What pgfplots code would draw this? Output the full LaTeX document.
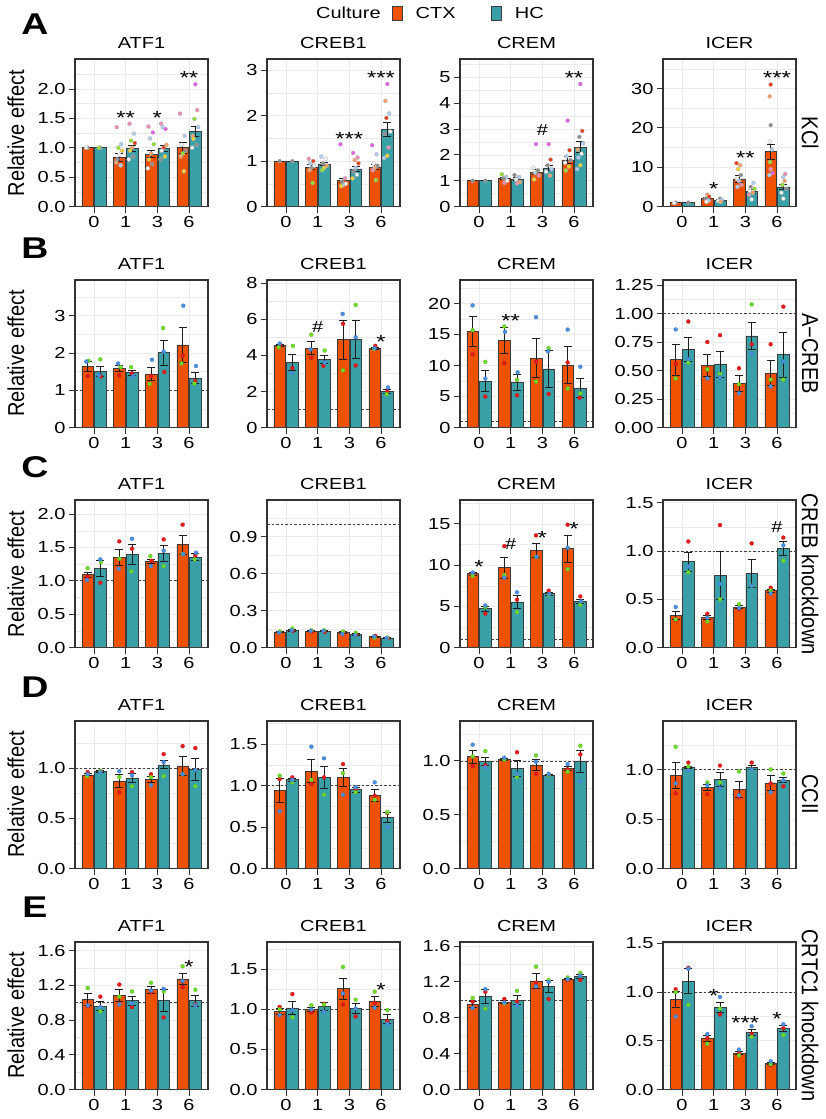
\documentclass[border=0pt]{standalone}
\usepackage{fontspec}
\setmainfont{Liberation Sans}[FakeStretch=1.25]
\newfontfamily\vfont{Liberation Sans}[FakeStretch=0.87]
\usepackage{pgfplots}
\pgfplotsset{compat=1.18}
\definecolor{ctxc}{RGB}{238,82,0}
\definecolor{hcc}{RGB}{58,160,168}
\definecolor{bardc}{RGB}{60,60,60}
\definecolor{gridc}{RGB}{235,235,235}
\definecolor{framec}{RGB}{51,51,51}
\definecolor{errc}{RGB}{30,30,30}
\definecolor{dr}{RGB}{228,26,28}
\definecolor{dg}{RGB}{110,220,40}
\definecolor{db}{RGB}{74,144,226}
\definecolor{cmg}{RGB}{228,90,228}
\definecolor{cpk}{RGB}{240,140,175}
\definecolor{cor}{RGB}{245,160,100}
\definecolor{crd}{RGB}{230,60,20}
\definecolor{cye}{RGB}{240,210,40}
\definecolor{cgn}{RGB}{140,225,40}
\definecolor{clb}{RGB}{175,205,240}
\definecolor{cgy}{RGB}{140,140,140}
\definecolor{cwh}{RGB}{242,242,242}
\newcommand\tickfont{\fontsize{16bp}{18bp}\selectfont}
\newcommand\starfont{\fontsize{19bp}{19bp}\selectfont}
\newcommand\vlab{\vfont\fontsize{23bp}{25bp}\selectfont}
\newcommand\letfont{\fontsize{30bp}{32bp}\selectfont\bfseries}
\tikzset{star/.style={font=\starfont, yshift=-3.9bp, inner sep=0pt},
         hash/.style={font=\tickfont, inner sep=0pt}}
\pgfplotsset{
 layers/mylay/.define layer set={axis background,axis grid,pre main,main,axis ticks,axis lines,axis tick labels,axis descriptions,axis foreground}{},
 panel/.style={set layers=mylay, scale only axis, width=133bp, height=147.5bp, anchor=north west,
   xmin=-0.6, xmax=3.6, ymin=0, xtick={0,1,2,3}, xticklabels={0,1,3,6},
   grid=both, major grid style={draw=gridc, line width=0.8bp}, minor grid style={draw=gridc, line width=0.4bp},
   axis line style={draw=framec, line width=1.1bp},
   major tick style={draw=framec, line width=0.9bp}, minor tick length=0pt, major tick length=6bp,
   tick align=outside, xtick pos=left, ytick pos=left,
   ticklabel style={font=\tickfont, text=black},
   /pgf/number format/assume math mode=true,
   title style={font=\tickfont, yshift=1bp}, clip=false},
 ctxbar/.style={ybar, bar width=0.37, bar shift=0pt, fill=ctxc, draw=bardc, line width=0.6bp,
   error bars/.cd, y dir=both, y explicit, error mark=-, error bar style={draw=errc, line width=0.8bp},
   error mark options={rotate=90, draw=errc, line width=0.8bp, mark size=4bp}},
 hcbar/.style={ybar, bar width=0.37, bar shift=0pt, fill=hcc, draw=bardc, line width=0.6bp,
   error bars/.cd, y dir=both, y explicit, error mark=-, error bar style={draw=errc, line width=0.8bp},
   error mark options={rotate=90, draw=errc, line width=0.8bp, mark size=4bp}},
 dots/.style={forget plot, only marks, scatter, scatter src=explicit symbolic, mark size=2bp,
   scatter/classes={
     r={mark=*, fill=dr, draw=dr!80!black, line width=0.2bp},
     g={mark=*, fill=dg, draw=dg!80!black, line width=0.2bp},
     b={mark=*, fill=db, draw=db!80!black, line width=0.2bp},
     mg={mark=*, fill=cmg, draw=black!30, line width=0.3bp},
     pk={mark=*, fill=cpk, draw=black!30, line width=0.3bp},
     or={mark=*, fill=cor, draw=black!30, line width=0.3bp},
     rd={mark=*, fill=crd, draw=black!30, line width=0.3bp},
     ye={mark=*, fill=cye, draw=black!30, line width=0.3bp},
     gn={mark=*, fill=cgn, draw=black!30, line width=0.3bp},
     lb={mark=*, fill=clb, draw=black!30, line width=0.3bp},
     gy={mark=*, fill=cgy, draw=black!30, line width=0.3bp},
     wh={mark=*, fill=cwh, draw=black!30, line width=0.3bp}}},
 dashline/.style={forget plot, draw=black!75, line width=0.6bp, dash pattern=on 2.5bp off 2bp}
}
\begin{document}
\begin{tikzpicture}
\path (0,0) rectangle (826bp,-1119bp);
% ---------- labels ----------
\node[font=\letfont] at (35bp,-24bp) {A};
\node[font=\letfont] at (35bp,-248bp) {B};
\node[font=\letfont] at (35bp,-467bp) {C};
\node[font=\letfont] at (35bp,-687bp) {D};
\node[font=\letfont] at (35bp,-907bp) {E};
\node[rotate=90, font=\vlab] at (16bp,-133bp) {Relative effect};
\node[rotate=90, font=\vlab] at (16bp,-353.5bp) {Relative effect};
\node[rotate=90, font=\vlab] at (16bp,-574bp) {Relative effect};
\node[rotate=90, font=\vlab] at (16bp,-794.5bp) {Relative effect};
\node[rotate=90, font=\vlab] at (16bp,-1015.5bp) {Relative effect};
\node[rotate=-90, font=\vlab] at (810bp,-133bp) {KCl};
\node[rotate=-90, font=\vlab] at (810bp,-353.5bp) {A−CREB};
\node[rotate=-90, font=\vlab] at (810bp,-574bp) {CREB knockdown};
\node[rotate=-90, font=\vlab] at (810bp,-794.5bp) {CCII};
\node[rotate=-90, font=\vlab] at (810bp,-1015.5bp) {CRTC1 knockdown};

% ================= ROW A =================
\begin{axis}[panel, at={(75bp,-59bp)}, ymax=2.51, title={ATF1},
  ytick={0,0.5,1,1.5,2}, yticklabels={0.0,0.5,1.0,1.5,2.0}, minor ytick={0.25,0.75,1.25,1.75,2.25},
  legend style={at={(2.62,1.3085)}, anchor=center, draw=none, fill=none, font=\tickfont,
    legend columns=3, nodes={inner sep=0bp},
    /tikz/every even column/.append style={column sep=11bp},
    /tikz/every odd column/.append style={column sep=13bp}}]
\addlegendimage{empty legend}\addlegendentry{Culture}
\addplot[legend image code/.code={\draw[fill=ctxc, draw=bardc, line width=0.6bp] (0bp,-7bp) rectangle (10.5bp,7.5bp);}, ctxbar]
  coordinates {(-0.2,1.0)+-(0,0) (0.8,0.83)+-(0,0.07) (1.8,0.89)+-(0,0.06) (2.8,1.0)+-(0,0.09)};
\addlegendentry{CTX\rule{24bp}{0bp}}
\addplot[legend image code/.code={\draw[fill=hcc, draw=bardc, line width=0.6bp] (0bp,-7bp) rectangle (10.5bp,7.5bp);}, hcbar]
  coordinates {(0.2,1.0)+-(0,0) (1.2,0.99)+-(0,0.05) (2.2,0.99)+-(0,0.05) (3.2,1.28)+-(0,0.08)};
\addlegendentry{HC}
\addplot[dots] coordinates {
 (-0.2,1.0)[gy] (-0.25,1.0)[wh] (0.2,1.0)[gy] (0.15,1.0)[gn]
 (0.72,1.35)[pk] (0.86,1.06)[lb] (0.77,1.0)[gn] (0.89,0.95)[ye] (0.8,0.88)[wh] (0.74,0.8)[gy] (0.84,0.7)[lb] (0.7,0.75)[or]
 (1.12,1.41)[pk] (1.26,1.24)[lb] (1.17,1.12)[gn] (1.29,1.08)[rd] (1.2,1.0)[or] (1.14,0.95)[ye] (1.24,0.85)[gy] (1.1,0.8)[wh]
 (1.72,1.36)[pk] (1.86,1.26)[mg] (1.77,1.16)[lb] (1.89,1.06)[gn] (1.8,0.9)[or] (1.74,0.8)[ye] (1.84,0.72)[gy] (1.7,0.65)[wh]
 (2.12,1.41)[pk] (2.26,1.32)[mg] (2.17,1.35)[lb] (2.29,1.05)[or] (2.2,1.0)[rd] (2.14,0.95)[wh] (2.24,0.85)[ye] (2.1,0.8)[gy]
 (2.72,1.58)[pk] (2.86,1.2)[lb] (2.77,1.05)[wh] (2.89,0.95)[gy] (2.8,0.9)[gn] (2.74,0.85)[or] (2.84,0.6)[ye]
 (3.2,2.08)[mg] (3.26,1.64)[pk] (3.17,1.49)[gn] (3.29,1.35)[lb] (3.12,1.2)[or] (3.14,1.15)[ye] (3.24,1.05)[gy] (3.1,1.0)[wh]};
\node[star] at (axis cs:1,1.574) {**};
\node[star] at (axis cs:2,1.574) {*};
\node[star] at (axis cs:3,2.254) {**};
\end{axis}

\begin{axis}[panel, at={(267bp,-59bp)}, ymax=3.25, title={CREB1},
  ytick={0,1,2,3}, yticklabels={0,1,2,3}, minor ytick={0.5,1.5,2.5}]
\addplot[forget plot, ctxbar] coordinates {(-0.2,1)+-(0,0) (0.8,0.87)+-(0,0.05) (1.8,0.57)+-(0,0.04) (2.8,0.87)+-(0,0.05)};
\addplot[forget plot, hcbar] coordinates {(0.2,1)+-(0,0) (1.2,0.94)+-(0,0.04) (2.2,0.83)+-(0,0.06) (3.2,1.70)+-(0,0.155)};
\addplot[dots] coordinates {
 (-0.2,1.0)[gy] (0.2,1.0)[gy]
 (0.72,1.05)[pk] (0.86,1.0)[rd] (0.77,0.95)[lb] (0.89,0.9)[wh] (0.8,0.85)[gy] (0.74,0.8)[or] (0.84,0.52)[gn]
 (1.12,1.1)[lb] (1.26,1.05)[wh] (1.17,0.95)[gy] (1.29,0.9)[or] (1.2,0.85)[ye] (1.14,0.8)[gn]
 (1.72,1.37)[mg] (1.86,0.62)[pk] (1.77,0.55)[gy] (1.89,0.5)[wh] (1.8,0.47)[lb] (1.74,0.45)[ye]
 (2.12,1.18)[mg] (2.26,1.08)[pk] (2.17,1.02)[or] (2.29,0.95)[rd] (2.2,0.85)[lb] (2.14,0.78)[gy] (2.24,0.7)[wh] (2.1,0.62)[ye]
 (2.72,1.35)[mg] (2.86,1.15)[lb] (2.77,0.95)[wh] (2.89,0.9)[gy] (2.8,0.85)[or] (2.74,0.8)[pk] (2.84,0.58)[gn]
 (3.2,2.7)[mg] (3.14,2.33)[or] (3.26,2.05)[lb] (3.17,1.95)[rd] (3.29,1.65)[wh] (3.12,1.6)[gy] (3.24,1.3)[pk] (3.2,1.12)[ye] (3.1,1.07)[lb]};
\node[star] at (axis cs:2,1.57) {***};
\node[star] at (axis cs:3,2.92) {***};
\end{axis}

\begin{axis}[panel, at={(460bp,-59bp)}, ymax=5.72, title={CREM},
  ytick={0,1,2,3,4,5}, yticklabels={0,1,2,3,4,5}, minor ytick={0.5,1.5,2.5,3.5,4.5,5.5}]
\addplot[forget plot, ctxbar] coordinates {(-0.2,1)+-(0,0) (0.8,1.09)+-(0,0.04) (1.8,1.33)+-(0,0.1) (2.8,1.81)+-(0,0.15)};
\addplot[forget plot, hcbar] coordinates {(0.2,1)+-(0,0) (1.2,1.07)+-(0,0.04) (2.2,1.50)+-(0,0.1) (3.2,2.30)+-(0,0.22)};
\addplot[dots] coordinates {
 (-0.2,1.0)[gy] (0.2,1.0)[gy]
 (0.72,1.25)[gn] (0.86,1.15)[lb] (0.77,1.1)[gy] (0.89,1.0)[wh] (0.8,0.92)[pk]
 (1.12,1.22)[gy] (1.26,1.15)[lb] (1.17,1.05)[wh] (1.29,0.95)[or] (1.2,0.9)[pk]
 (1.8,2.42)[mg] (1.72,1.5)[wh] (1.86,1.4)[gy] (1.77,1.3)[lb] (1.89,1.2)[pk] (1.74,1.05)[ye]
 (2.2,2.42)[mg] (2.26,1.82)[rd] (2.17,1.6)[gy] (2.29,1.45)[lb] (2.12,1.35)[wh] (2.24,1.2)[or]
 (2.8,3.33)[mg] (2.86,2.18)[rd] (2.77,1.95)[lb] (2.89,1.8)[gy] (2.72,1.7)[wh] (2.84,1.55)[ye] (2.74,1.4)[gn]
 (3.2,4.75)[mg] (3.26,2.93)[rd] (3.17,2.7)[gy] (3.29,2.45)[lb] (3.12,2.2)[or] (3.24,2.05)[wh] (3.14,1.9)[lb] (3.2,1.6)[ye] (3.1,1.45)[lb]};
\node[hash] at (axis cs:2,2.96) {\#};
\node[star] at (axis cs:3,5.13) {**};
\end{axis}

\begin{axis}[panel, at={(663bp,-59bp)}, ymax=37.5, title={ICER},
  ytick={0,10,20,30}, yticklabels={0,10,20,30}, minor ytick={5,15,25,35}]
\addplot[forget plot, ctxbar] coordinates {(-0.2,1)+-(0,0) (0.8,2.0)+-(0,0.3) (1.8,7.0)+-(0,0.8) (2.8,14.0)+-(0,1.9)};
\addplot[forget plot, hcbar] coordinates {(0.2,1)+-(0,0) (1.2,1.5)+-(0,0.2) (2.2,3.8)+-(0,0.5) (3.2,5.0)+-(0,0.6)};
\addplot[dots] coordinates {
 (-0.2,1)[gy] (-0.25,0.9)[wh] (0.2,1)[gy]
 (0.8,3.0)[or] (0.86,2.5)[rd] (0.74,2.0)[gy] (0.84,1.5)[lb] (0.77,1.2)[wh]
 (1.2,2.0)[gy] (1.26,1.7)[lb] (1.14,1.4)[wh] (1.22,1.2)[or]
 (1.72,11.0)[rd] (1.84,10.5)[or] (1.77,9.5)[ye] (1.86,8.0)[gy] (1.74,7.0)[wh] (1.8,6.5)[lb] (1.88,5.5)[pk] (1.75,5.0)[lb]
 (2.26,6.0)[lb] (2.17,5.0)[gy] (2.29,4.5)[gn] (2.14,4.0)[wh] (2.24,3.5)[or] (2.12,3.0)[pk] (2.2,1.8)[wh]
 (2.8,31.0)[rd] (2.77,28.0)[or] (2.8,20.7)[gy] (2.77,16.5)[wh] (2.84,14.5)[lb] (2.78,11.3)[gn] (2.8,9.5)[pk] (2.86,8.5)[mg] (2.76,8.0)[lb]
 (3.26,8.3)[pk] (3.2,7.5)[lb] (3.24,6.5)[or] (3.17,5.5)[gn] (3.29,4.5)[gy] (3.14,3.5)[wh] (3.2,2.0)[wh]};
\node[star] at (axis cs:1,5.56) {*};
\node[star] at (axis cs:2,13.4) {**};
\node[star] at (axis cs:3,33.7) {***};
\end{axis}

% ================= ROW B =================
\begin{axis}[panel, at={(75bp,-280bp)}, ymax=3.96, title={ATF1},
  ytick={0,1,2,3}, yticklabels={0,1,2,3}, minor ytick={0.5,1.5,2.5,3.5}]
\addplot[dashline] coordinates {(-0.6,1) (3.6,1)};
\addplot[forget plot, ctxbar] coordinates {(-0.2,1.64)+-(0,0.13) (0.8,1.58)+-(0,0.08) (1.8,1.44)+-(0,0.17) (2.8,2.22)+-(0,0.47)};
\addplot[forget plot, hcbar] coordinates {(0.2,1.51)+-(0,0.13) (1.2,1.47)+-(0,0.07) (2.2,2.01)+-(0,0.33) (3.2,1.33)+-(0,0.14)};
\addplot[dots] coordinates {
 (-0.2,1.38)[r] (-0.17,1.79)[g] (-0.24,1.77)[b]
 (0.8,1.40)[r] (0.84,1.62)[g] (0.76,1.72)[b]
 (1.8,1.38)[r] (1.76,1.17)[g] (1.83,1.82)[b]
 (2.8,1.94)[r] (2.76,1.72)[g] (2.82,3.27)[b]
 (0.22,1.37)[r] (0.2,1.83)[g] (0.16,1.40)[b]
 (1.2,1.45)[r] (1.17,1.62)[g] (1.24,1.38)[b]
 (2.22,1.49)[r] (2.18,2.67)[g] (2.2,2.04)[b]
 (3.2,1.25)[r] (3.17,1.18)[g] (3.22,1.65)[b]};
\end{axis}

\begin{axis}[panel, at={(267bp,-280bp)}, ymax=8.18, title={CREB1},
  ytick={0,2,4,6,8}, yticklabels={0,2,4,6,8}, minor ytick={1,3,5,7}]
\addplot[dashline] coordinates {(-0.6,1) (3.6,1)};
\addplot[forget plot, ctxbar] coordinates {(-0.2,4.55)+-(0,0.06) (0.8,4.40)+-(0,0.37) (1.8,4.87)+-(0,1.08) (2.8,4.40)+-(0,0.05)};
\addplot[forget plot, hcbar] coordinates {(0.2,3.59)+-(0,0.45) (1.2,3.77)+-(0,0.24) (2.2,4.89)+-(0,1.05) (3.2,1.99)+-(0,0.10)};
\addplot[dots] coordinates {
 (-0.18,4.6)[r] (-0.23,4.45)[g] (-0.2,4.66)[b]
 (0.8,3.87)[r] (0.8,5.15)[g] (0.78,4.33)[b]
 (1.8,5.75)[r] (1.8,3.17)[g] (1.79,6.3)[b]
 (2.82,4.53)[r] (2.78,4.35)[g] (2.8,4.4)[b]
 (0.2,3.3)[r] (0.22,4.53)[g] (0.18,3.03)[b]
 (1.18,3.42)[r] (1.22,4.27)[g] (1.22,3.6)[b]
 (2.2,3.44)[r] (2.2,6.8)[g] (2.2,5.0)[b]
 (3.2,2.0)[r] (3.18,1.85)[g] (3.22,2.22)[b]};
\node[hash] at (axis cs:1,5.58) {\#};
\node[star] at (axis cs:3,4.98) {*};
\end{axis}

\begin{axis}[panel, at={(460bp,-280bp)}, ymax=23.8, title={CREM},
  ytick={0,5,10,15,20}, yticklabels={0,5,10,15,20}, minor ytick={2.5,7.5,12.5,17.5,22.5}]
\addplot[dashline] coordinates {(-0.6,1) (3.6,1)};
\addplot[forget plot, ctxbar] coordinates {(-0.2,15.5)+-(0,2.43) (0.8,14.05)+-(0,2.1) (1.8,11.2)+-(0,3.15) (2.8,10.1)+-(0,3.0)};
\addplot[forget plot, hcbar] coordinates {(0.2,7.46)+-(0,1.7) (1.2,7.24)+-(0,1.3) (2.2,9.46)+-(0,2.97) (3.2,6.38)+-(0,1.49)};
\addplot[dots] coordinates {
 (-0.2,11.8)[r] (-0.2,15.7)[g] (-0.2,19.7)[b]
 (0.8,10.4)[r] (0.8,16.3)[g] (0.82,15.45)[b]
 (1.8,10.6)[r] (1.8,7.4)[g] (1.8,17.8)[b]
 (2.8,10.5)[r] (2.8,6.3)[g] (2.8,15.8)[b]
 (0.2,5.0)[r] (0.2,10.6)[g] (0.2,7.9)[b]
 (1.2,5.2)[r] (1.2,7.7)[g] (1.22,8.9)[b]
 (2.2,5.4)[r] (2.2,12.8)[g] (2.18,12.3)[b]
 (3.18,4.8)[r] (3.2,5.5)[g] (3.2,9.8)[b]};
\node[star] at (axis cs:1,17.8) {**};
\end{axis}

\begin{axis}[panel, at={(663bp,-280bp)}, ymax=1.294, title={ICER},
  ytick={0,0.25,0.5,0.75,1,1.25}, yticklabels={0.00,0.25,0.50,0.75,1.00,1.25}, minor ytick={0.125,0.375,0.625,0.875,1.125}]
\addplot[dashline] coordinates {(-0.6,1) (3.6,1)};
\addplot[forget plot, ctxbar] coordinates {(-0.2,0.594)+-(0,0.135) (0.8,0.544)+-(0,0.096) (1.8,0.388)+-(0,0.069) (2.8,0.479)+-(0,0.107)};
\addplot[forget plot, hcbar] coordinates {(0.2,0.685)+-(0,0.109) (1.2,0.553)+-(0,0.112) (2.2,0.803)+-(0,0.12) (3.2,0.638)+-(0,0.195)};
\addplot[dots] coordinates {
 (-0.2,0.56)[r] (-0.2,0.43)[g] (-0.2,0.86)[b]
 (0.8,0.75)[r] (0.8,0.51)[g] (0.8,0.43)[b]
 (1.8,0.52)[r] (1.8,0.38)[g] (1.8,0.30)[b]
 (2.8,0.73)[r] (2.8,0.42)[g] (2.8,0.36)[b]
 (0.2,0.93)[r] (0.2,0.57)[g] (0.2,0.60)[b]
 (1.2,0.81)[r] (1.2,0.47)[g] (1.2,0.44)[b]
 (2.2,0.73)[r] (2.2,1.08)[g] (2.2,0.65)[b]
 (3.2,1.06)[r] (3.2,0.42)[g] (3.2,0.58)[b]};
\end{axis}

% ================= ROW C =================
\begin{axis}[panel, at={(75bp,-500bp)}, ymax=2.21, title={ATF1},
  ytick={0,0.5,1,1.5,2}, yticklabels={0.0,0.5,1.0,1.5,2.0}, minor ytick={0.25,0.75,1.25,1.75}]
\addplot[dashline] coordinates {(-0.6,1) (3.6,1)};
\addplot[forget plot, ctxbar] coordinates {(-0.2,1.09)+-(0,0.04) (0.8,1.355)+-(0,0.12) (1.8,1.285)+-(0,0.03) (2.8,1.54)+-(0,0.14)};
\addplot[forget plot, hcbar] coordinates {(0.2,1.18)+-(0,0.12) (1.2,1.40)+-(0,0.15) (2.2,1.415)+-(0,0.12) (3.2,1.355)+-(0,0.05)};
\addplot[dots] coordinates {
 (-0.2,1.06)[r] (-0.2,1.19)[g] (-0.22,1.01)[b]
 (0.8,1.59)[r] (0.8,1.33)[g] (0.78,1.18)[b]
 (1.82,1.30)[r] (1.78,1.37)[g] (1.8,1.22)[b]
 (2.8,1.84)[r] (2.8,1.40)[g] (2.82,1.40)[b]
 (0.2,0.97)[r] (0.22,1.28)[g] (0.2,1.32)[b]
 (1.2,1.48)[r] (1.18,1.14)[g] (1.2,1.63)[b]
 (2.2,1.62)[r] (2.2,1.22)[g] (2.2,1.45)[b]
 (3.2,1.38)[r] (3.18,1.32)[g] (3.22,1.42)[b]};
\end{axis}

\begin{axis}[panel, at={(267bp,-500bp)}, ymax=1.20, title={CREB1},
  ytick={0,0.3,0.6,0.9}, yticklabels={0.0,0.3,0.6,0.9}, minor ytick={0.15,0.45,0.75,1.05}]
\addplot[dashline] coordinates {(-0.6,1) (3.6,1)};
\addplot[forget plot, ctxbar] coordinates {(-0.2,0.127)+-(0,0.004) (0.8,0.132)+-(0,0.004) (1.8,0.122)+-(0,0.005) (2.8,0.089)+-(0,0.004)};
\addplot[forget plot, hcbar] coordinates {(0.2,0.14)+-(0,0.006) (1.2,0.132)+-(0,0.005) (2.2,0.108)+-(0,0.006) (3.2,0.078)+-(0,0.002)};
\addplot[dots] coordinates {
 (-0.2,0.125)[r] (-0.2,0.13)[g] (-0.22,0.12)[b]
 (0.82,0.13)[r] (0.8,0.14)[g] (0.78,0.135)[b]
 (1.82,0.125)[r] (1.8,0.13)[g] (1.78,0.11)[b]
 (2.82,0.095)[r] (2.8,0.08)[g] (2.78,0.09)[b]
 (0.22,0.135)[r] (0.2,0.155)[g] (0.18,0.14)[b]
 (1.22,0.125)[r] (1.2,0.14)[g] (1.18,0.135)[b]
 (2.22,0.105)[r] (2.2,0.12)[g] (2.18,0.10)[b]
 (3.22,0.076)[r] (3.2,0.08)[g] (3.18,0.078)[b]};
\end{axis}

\begin{axis}[panel, at={(460bp,-500bp)}, ymax=17.9, title={CREM},
  ytick={0,5,10,15}, yticklabels={0,5,10,15}, minor ytick={2.5,7.5,12.5,17.5}]
\addplot[dashline] coordinates {(-0.6,1) (3.6,1)};
\addplot[forget plot, ctxbar] coordinates {(-0.2,8.95)+-(0,0.15) (0.8,9.68)+-(0,1.25) (1.8,11.81)+-(0,0.85) (2.8,11.98)+-(0,1.6)};
\addplot[forget plot, hcbar] coordinates {(0.2,4.72)+-(0,0.3) (1.2,5.52)+-(0,0.75) (2.2,6.53)+-(0,0.15) (3.2,5.6)+-(0,0.25)};
\addplot[dots] coordinates {
 (-0.2,9.0)[r] (-0.2,8.7)[g] (-0.2,9.1)[b]
 (0.8,12.3)[r] (0.8,8.8)[g] (0.8,8.5)[b]
 (1.8,13.6)[r] (1.8,11.0)[g] (1.82,11.0)[b]
 (2.8,14.9)[r] (2.8,9.5)[g] (2.8,12.1)[b]
 (0.2,4.1)[r] (0.2,4.9)[g] (0.2,5.1)[b]
 (1.2,5.8)[r] (1.2,4.3)[g] (1.2,6.7)[b]
 (2.2,6.9)[r] (2.2,6.4)[g] (2.22,6.5)[b]
 (3.2,6.2)[r] (3.2,5.2)[g] (3.22,5.6)[b]};
\node[star] at (axis cs:0,10.3) {*};
\node[hash] at (axis cs:1,12.5) {\#};
\node[star] at (axis cs:2,13.8) {*};
\node[star] at (axis cs:3,14.8) {*};
\end{axis}

\begin{axis}[panel, at={(663bp,-500bp)}, ymax=1.53, title={ICER},
  ytick={0,0.5,1,1.5}, yticklabels={0.0,0.5,1.0,1.5}, minor ytick={0.25,0.75,1.25}]
\addplot[dashline] coordinates {(-0.6,1) (3.6,1)};
\addplot[forget plot, ctxbar] coordinates {(-0.2,0.334)+-(0,0.04) (0.8,0.31)+-(0,0.02) (1.8,0.417)+-(0,0.015) (2.8,0.59)+-(0,0.015)};
\addplot[forget plot, hcbar] coordinates {(0.2,0.89)+-(0,0.1) (1.2,0.748)+-(0,0.245) (2.2,0.766)+-(0,0.147) (3.2,1.03)+-(0,0.07)};
\addplot[dots] coordinates {
 (-0.2,0.28)[r] (-0.2,0.29)[g] (-0.2,0.42)[b]
 (0.8,0.35)[r] (0.8,0.27)[g] (0.8,0.31)[b]
 (1.8,0.40)[r] (1.8,0.45)[g] (1.8,0.41)[b]
 (2.8,0.62)[r] (2.8,0.59)[g] (2.8,0.56)[b]
 (0.2,1.10)[r] (0.2,0.78)[g] (0.2,0.84)[b]
 (1.2,1.27)[r] (1.2,0.50)[g] (1.2,0.66)[b]
 (2.2,1.08)[r] (2.2,0.64)[g] (2.2,0.64)[b]
 (3.2,1.14)[r] (3.2,0.90)[g] (3.2,1.06)[b]};
\node[hash] at (axis cs:3,1.25) {\#};
\end{axis}

% ================= ROW D =================
\begin{axis}[panel, at={(75bp,-721bp)}, ymax=1.47, title={ATF1},
  ytick={0,0.5,1}, yticklabels={0.0,0.5,1.0}, minor ytick={0.25,0.75,1.25}]
\addplot[dashline] coordinates {(-0.6,1) (3.6,1)};
\addplot[forget plot, ctxbar] coordinates {(-0.2,0.933)+-(0,0.01) (0.8,0.873)+-(0,0.067) (1.8,0.89)+-(0,0.03) (2.8,1.023)+-(0,0.095)};
\addplot[forget plot, hcbar] coordinates {(0.2,0.97)+-(0,0.01) (1.2,0.903)+-(0,0.04) (2.2,1.033)+-(0,0.04) (3.2,0.987)+-(0,0.108)};
\addplot[dots] coordinates {
 (-0.2,0.96)[r] (-0.22,0.92)[g] (-0.2,0.94)[b]
 (0.8,0.76)[r] (0.8,0.91)[g] (0.8,0.97)[b]
 (1.8,0.94)[r] (1.8,0.91)[g] (1.8,0.83)[b]
 (2.8,1.22)[r] (2.8,0.94)[g] (2.8,0.94)[b]
 (0.2,0.97)[r] (0.2,0.97)[g] (0.2,0.96)[b]
 (1.2,0.96)[r] (1.2,0.82)[g] (1.2,0.93)[b]
 (2.2,1.14)[r] (2.2,0.92)[g] (2.2,1.06)[b]
 (3.2,1.20)[r] (3.2,0.82)[g] (3.2,0.98)[b]};
\end{axis}

\begin{axis}[panel, at={(267bp,-721bp)}, ymax=1.78, title={CREB1},
  ytick={0,0.5,1,1.5}, yticklabels={0.0,0.5,1.0,1.5}, minor ytick={0.25,0.75,1.25,1.75}]
\addplot[dashline] coordinates {(-0.6,1) (3.6,1)};
\addplot[forget plot, ctxbar] coordinates {(-0.2,0.947)+-(0,0.146) (0.8,1.174)+-(0,0.138) (1.8,1.10)+-(0,0.11) (2.8,0.883)+-(0,0.075)};
\addplot[forget plot, hcbar] coordinates {(0.2,1.073)+-(0,0.02) (1.2,1.10)+-(0,0.13) (2.2,0.95)+-(0,0.03) (3.2,0.615)+-(0,0.06)};
\addplot[dots] coordinates {
 (-0.2,1.08)[r] (-0.2,1.12)[g] (-0.2,0.69)[b]
 (0.8,1.02)[r] (0.8,1.07)[g] (0.8,1.47)[b]
 (1.8,1.26)[r] (1.8,1.15)[g] (1.8,0.89)[b]
 (2.8,0.88)[r] (2.8,0.83)[g] (2.8,1.04)[b]
 (0.2,1.10)[r] (0.2,1.04)[g] (0.2,1.07)[b]
 (1.2,1.10)[r] (1.2,0.89)[g] (1.2,1.33)[b]
 (2.2,0.96)[r] (2.2,0.92)[g] (2.2,0.98)[b]
 (3.2,0.67)[r] (3.2,0.68)[g] (3.2,0.50)[b]};
\end{axis}

\begin{axis}[panel, at={(460bp,-721bp)}, ymax=1.37, title={CREM},
  ytick={0,0.5,1}, yticklabels={0.0,0.5,1.0}, minor ytick={0.25,0.75,1.25}]
\addplot[dashline] coordinates {(-0.6,1) (3.6,1)};
\addplot[forget plot, ctxbar] coordinates {(-0.2,1.04)+-(0,0.06) (0.8,1.01)+-(0,0.01) (1.8,0.963)+-(0,0.05) (2.8,0.93)+-(0,0.02)};
\addplot[forget plot, hcbar] coordinates {(0.2,0.994)+-(0,0.04) (1.2,0.93)+-(0,0.07) (2.2,0.87)+-(0,0.005) (3.2,0.994)+-(0,0.105)};
\addplot[dots] coordinates {
 (-0.2,0.95)[r] (-0.2,1.04)[g] (-0.2,1.15)[b]
 (0.8,1.01)[r] (0.8,1.01)[g] (0.8,1.03)[b]
 (1.8,0.88)[r] (1.8,1.05)[g] (1.8,0.99)[b]
 (2.8,0.92)[r] (2.8,0.90)[g] (2.8,0.97)[b]
 (0.2,0.96)[r] (0.2,1.09)[g] (0.2,0.94)[b]
 (1.2,1.08)[r] (1.2,0.85)[g] (1.2,0.88)[b]
 (2.2,0.87)[r] (2.2,0.87)[g] (2.2,0.88)[b]
 (3.2,1.06)[r] (3.2,1.14)[g] (3.2,0.81)[b]};
\end{axis}

\begin{axis}[panel, at={(663bp,-721bp)}, ymax=1.49, title={ICER},
  ytick={0,0.5,1}, yticklabels={0.0,0.5,1.0}, minor ytick={0.25,0.75,1.25}]
\addplot[dashline] coordinates {(-0.6,1) (3.6,1)};
\addplot[forget plot, ctxbar] coordinates {(-0.2,0.94)+-(0,0.13) (0.8,0.82)+-(0,0.03) (1.8,0.80)+-(0,0.085) (2.8,0.865)+-(0,0.075)};
\addplot[forget plot, hcbar] coordinates {(0.2,1.024)+-(0,0.01) (1.2,0.90)+-(0,0.07) (2.2,1.02)+-(0,0.02) (3.2,0.895)+-(0,0.03)};
\addplot[dots] coordinates {
 (-0.2,0.76)[r] (-0.2,1.23)[g] (-0.2,0.86)[b]
 (0.8,0.75)[r] (0.8,0.87)[g] (0.8,0.84)[b]
 (1.8,0.72)[r] (1.8,0.98)[g] (1.8,0.74)[b]
 (2.8,0.86)[r] (2.8,1.0)[g] (2.8,0.77)[b]
 (0.2,1.07)[r] (0.2,1.03)[g] (0.2,0.99)[b]
 (1.2,1.04)[r] (1.2,0.87)[g] (1.2,0.81)[b]
 (2.2,1.07)[r] (2.2,1.0)[g] (2.2,1.0)[b]
 (3.2,0.83)[r] (3.2,0.96)[g] (3.2,0.89)[b]};
\end{axis}

% ================= ROW E =================
\begin{axis}[panel, at={(75bp,-942bp)}, ymax=1.70, title={ATF1},
  ytick={0,0.4,0.8,1.2,1.6}, yticklabels={0.0,0.4,0.8,1.2,1.6}, minor ytick={0.2,0.6,1.0,1.4}]
\addplot[dashline] coordinates {(-0.6,1) (3.6,1)};
\addplot[forget plot, ctxbar] coordinates {(-0.2,1.035)+-(0,0.068) (0.8,1.085)+-(0,0.07) (1.8,1.151)+-(0,0.04) (2.8,1.275)+-(0,0.068)};
\addplot[forget plot, hcbar] coordinates {(0.2,0.961)+-(0,0.05) (1.2,1.023)+-(0,0.05) (2.2,1.027)+-(0,0.124) (3.2,1.023)+-(0,0.06)};
\addplot[dots] coordinates {
 (-0.2,0.96)[r] (-0.2,1.17)[g] (-0.2,0.97)[b]
 (0.8,1.21)[r] (0.8,1.07)[g] (0.8,0.98)[b]
 (1.8,1.12)[r] (1.8,1.23)[g] (1.8,1.14)[b]
 (2.8,1.18)[r] (2.8,1.42)[g] (2.8,1.25)[b]
 (0.2,1.07)[r] (0.2,0.90)[g] (0.2,0.95)[b]
 (1.2,0.95)[r] (1.2,1.13)[g] (1.2,0.99)[b]
 (2.2,0.83)[r] (2.2,1.13)[g] (2.2,1.16)[b]
 (3.2,0.98)[r] (3.2,1.15)[g] (3.2,0.97)[b]};
\node[star] at (axis cs:3,1.46) {*};
\end{axis}

\begin{axis}[panel, at={(267bp,-942bp)}, ymax=1.84, title={CREB1},
  ytick={0,0.5,1,1.5}, yticklabels={0.0,0.5,1.0,1.5}, minor ytick={0.25,0.75,1.25,1.75}]
\addplot[dashline] coordinates {(-0.6,1) (3.6,1)};
\addplot[forget plot, ctxbar] coordinates {(-0.2,0.975)+-(0,0.04) (0.8,1.0)+-(0,0.02) (1.8,1.26)+-(0,0.132) (2.8,1.10)+-(0,0.065)};
\addplot[forget plot, hcbar] coordinates {(0.2,1.017)+-(0,0.084) (1.2,1.038)+-(0,0.05) (2.2,1.008)+-(0,0.06) (3.2,0.878)+-(0,0.055)};
\addplot[dots] coordinates {
 (-0.2,1.03)[r] (-0.2,1.0)[g] (-0.2,0.93)[b]
 (0.8,0.96)[r] (0.8,1.05)[g] (0.8,1.0)[b]
 (1.8,1.06)[r] (1.8,1.53)[g] (1.8,1.2)[b]
 (2.8,1.08)[r] (2.8,1.22)[g] (2.8,1.02)[b]
 (0.2,1.19)[r] (0.2,0.90)[g] (0.2,0.99)[b]
 (1.2,1.07)[r] (1.2,1.06)[g] (1.2,0.97)[b]
 (2.2,0.91)[r] (2.2,1.12)[g] (2.2,1.01)[b]
 (3.2,0.85)[r] (3.2,0.99)[g] (3.2,0.82)[b]};
\node[star] at (axis cs:3,1.29) {*};
\end{axis}

\begin{axis}[panel, at={(460bp,-942bp)}, ymax=1.645, title={CREM},
  ytick={0,0.4,0.8,1.2,1.6}, yticklabels={0.0,0.4,0.8,1.2,1.6}, minor ytick={0.2,0.6,1.0,1.4}]
\addplot[dashline] coordinates {(-0.6,1) (3.6,1)};
\addplot[forget plot, ctxbar] coordinates {(-0.2,0.95)+-(0,0.03) (0.8,0.976)+-(0,0.02) (1.8,1.211)+-(0,0.084) (2.8,1.23)+-(0,0.006)};
\addplot[forget plot, hcbar] coordinates {(0.2,1.035)+-(0,0.08) (1.2,0.998)+-(0,0.05) (2.2,1.151)+-(0,0.065) (3.2,1.264)+-(0,0.02)};
\addplot[dots] coordinates {
 (-0.2,0.98)[r] (-0.2,1.02)[g] (-0.2,0.91)[b]
 (0.8,1.01)[r] (0.8,0.96)[g] (0.8,0.97)[b]
 (1.8,1.19)[r] (1.8,1.37)[g] (1.8,1.15)[b]
 (2.8,1.22)[r] (2.8,1.25)[g] (2.8,1.23)[b]
 (0.2,1.09)[r] (0.2,0.90)[g] (0.2,1.12)[b]
 (1.2,0.98)[r] (1.2,1.10)[g] (1.2,0.94)[b]
 (2.2,1.01)[r] (2.2,1.22)[g] (2.2,1.20)[b]
 (3.2,1.22)[r] (3.2,1.30)[g] (3.2,1.27)[b]};
\end{axis}

\begin{axis}[panel, at={(663bp,-942bp)}, ymax=1.515, title={ICER},
  ytick={0,0.5,1,1.5}, yticklabels={0.0,0.5,1.0,1.5}, minor ytick={0.25,0.75,1.25}]
\addplot[dashline] coordinates {(-0.6,1) (3.6,1)};
\addplot[forget plot, ctxbar] coordinates {(-0.2,0.924)+-(0,0.08) (0.8,0.522)+-(0,0.03) (1.8,0.375)+-(0,0.012) (2.8,0.265)+-(0,0.01)};
\addplot[forget plot, hcbar] coordinates {(0.2,1.113)+-(0,0.13) (1.2,0.845)+-(0,0.05) (2.2,0.584)+-(0,0.03) (3.2,0.632)+-(0,0.03)};
\addplot[dots] coordinates {
 (-0.2,1.03)[r] (-0.2,1.0)[g] (-0.2,0.75)[b]
 (0.8,0.53)[r] (0.8,0.47)[g] (0.8,0.57)[b]
 (1.8,0.37)[r] (1.8,0.35)[g] (1.8,0.41)[b]
 (2.8,0.25)[r] (2.8,0.26)[g] (2.8,0.29)[b]
 (0.2,1.25)[r] (0.2,0.87)[g] (0.2,1.24)[b]
 (1.2,0.77)[r] (1.2,0.83)[g] (1.2,0.95)[b]
 (2.2,0.57)[r] (2.2,0.54)[g] (2.2,0.65)[b]
 (3.2,0.63)[r] (3.2,0.56)[g] (3.2,0.67)[b]};
\node[star] at (axis cs:1,1.0) {*};
\node[star] at (axis cs:2,0.72) {***};
\node[star] at (axis cs:3,0.76) {*};
\end{axis}
\end{tikzpicture}
\end{document}
